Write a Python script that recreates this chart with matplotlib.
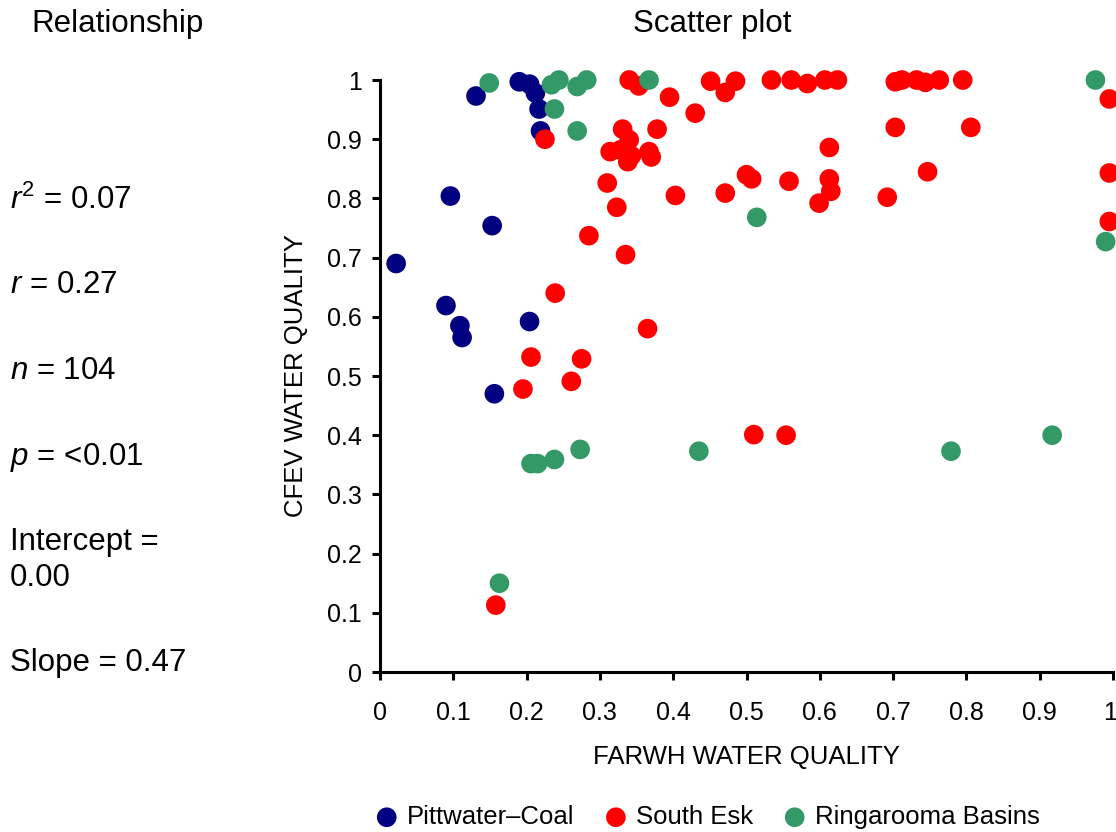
import matplotlib
matplotlib.use("Agg")
import matplotlib.pyplot as plt
from matplotlib.transforms import ScaledTranslation

plt.rcParams['font.family'] = ['Liberation Sans', 'DejaVu Sans']
plt.rcParams['mathtext.fontset'] = 'custom'
plt.rcParams['mathtext.rm'] = 'Liberation Sans'
plt.rcParams['mathtext.it'] = 'Liberation Sans:italic'

# ---- data ----
pitt_x = [0.131, 0.190, 0.204, 0.212, 0.217, 0.219, 0.096, 0.153, 0.022, 0.090, 0.109, 0.112, 0.204, 0.156]
pitt_y = [0.973, 0.997, 0.993, 0.978, 0.951, 0.914, 0.804, 0.754, 0.690, 0.619, 0.585, 0.565, 0.592, 0.470]

esk_x = [0.340, 0.353, 0.395, 0.430, 0.451, 0.471, 0.485, 0.534, 0.561, 0.583, 0.607, 0.624,
         0.703, 0.712, 0.732, 0.744, 0.763, 0.795, 0.995,
         0.225, 0.331, 0.378, 0.314, 0.328, 0.340, 0.343, 0.338, 0.367, 0.370,
         0.310, 0.323, 0.403, 0.471, 0.500, 0.507, 0.285, 0.335, 0.703, 0.806,
         0.613, 0.558, 0.613, 0.615, 0.599, 0.692, 0.747, 0.995, 0.995,
         0.239, 0.365, 0.206, 0.275, 0.261, 0.195, 0.510, 0.554, 0.158]
esk_y = [1.000, 0.990, 0.971, 0.944, 0.998, 0.979, 0.998, 1.000, 1.000, 0.994, 1.000, 1.000,
         0.997, 1.000, 1.000, 0.996, 1.000, 1.000, 0.968,
         0.900, 0.917, 0.917, 0.879, 0.882, 0.899, 0.872, 0.862, 0.879, 0.870,
         0.826, 0.785, 0.805, 0.809, 0.840, 0.833, 0.737, 0.705, 0.920, 0.920,
         0.886, 0.829, 0.833, 0.812, 0.792, 0.802, 0.845, 0.843, 0.761,
         0.640, 0.580, 0.532, 0.529, 0.491, 0.478, 0.401, 0.400, 0.113]

ring_x = [0.149, 0.234, 0.244, 0.269, 0.282, 0.238, 0.269, 0.367, 0.976, 0.514, 0.990,
          0.206, 0.215, 0.238, 0.273, 0.435, 0.779, 0.917, 0.163]
ring_y = [0.995, 0.992, 1.000, 0.989, 1.000, 0.951, 0.914, 1.000, 1.000, 0.768, 0.727,
          0.352, 0.352, 0.359, 0.376, 0.373, 0.373, 0.400, 0.150]

series_names = ['Pittwater\u2013Coal', 'South Esk', 'Ringarooma Basins']
series_colors = ['#000080', '#FF0000', '#339966']

x_ticks = [0, 0.1, 0.2, 0.3, 0.4, 0.5, 0.6, 0.7, 0.8, 0.9, 1]
x_tick_labels = ['0', '0.1', '0.2', '0.3', '0.4', '0.5', '0.6', '0.7', '0.8', '0.9', '1']
y_ticks = x_ticks
y_tick_labels = x_tick_labels

stats_lines = [r'$r^2$ = 0.07', r'$r$ = 0.27', r'$n$ = 104', r'$p$ = <0.01',
               'Intercept =\n0.00', 'Slope = 0.47']

# ---- figure ----
W, H = 1116, 832
fig = plt.figure(figsize=(W / 100, H / 100), dpi=100)
ax = fig.add_axes([380 / W, 1 - 672 / H, (1113 - 380) / W, (672 - 80) / H])

for xs, ys, name, col in zip([pitt_x, esk_x, ring_x], [pitt_y, esk_y, ring_y],
                             series_names, series_colors):
    ax.scatter(xs, ys, s=200, color=col, edgecolors='none', label=name,
               clip_on=False, zorder=3)

ax.set_xlim(0, 1)
ax.set_ylim(0, 1)
ax.set_xticks(x_ticks)
ax.set_xticklabels(x_tick_labels)
ax.set_yticks(y_ticks)
ax.set_yticklabels(y_tick_labels)
for s in ['top', 'right']:
    ax.spines[s].set_visible(False)
for s in ['left', 'bottom']:
    ax.spines[s].set_linewidth(2.2)
ax.tick_params(axis='both', direction='out', length=6, width=2.2, labelsize=18)
ax.tick_params(axis='x', pad=15)
ax.tick_params(axis='y', pad=7)
# keep the last x tick label inside the figure
last = ax.get_xticklabels()[-1]
last.set_horizontalalignment('right')
last.set_transform(last.get_transform() + ScaledTranslation(4 / 100, 0, fig.dpi_scale_trans))

ax.set_xlabel('FARWH WATER QUALITY', fontsize=18.5, labelpad=14)
ax.set_ylabel('CFEV WATER QUALITY', fontsize=18.5, labelpad=14)

fig.text(117 / W, 1 - 24 / H, 'Relationship', ha='center', va='center', fontsize=22.5)
fig.text(712 / W, 1 - 24 / H, 'Scatter plot', ha='center', va='center', fontsize=22.5)

ys_px = [200, 285, 371, 457, 560, 663]
for t, yp in zip(stats_lines, ys_px):
    fig.text(10 / W, 1 - yp / H, t, ha='left', va='center', fontsize=22.5,
             linespacing=1.25)

leg = fig.legend(loc='center', bbox_to_anchor=(707 / W, 1 - 817 / H), ncol=3,
                 frameon=False, fontsize=18.5, handlelength=1.0, handletextpad=0.3,
                 columnspacing=1.1, markerscale=1.0, borderaxespad=0)

fig.savefig('out.png', dpi=100)
